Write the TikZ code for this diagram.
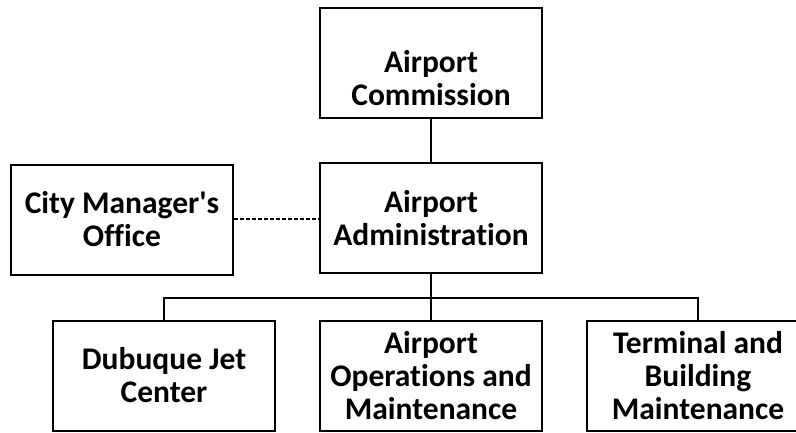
\documentclass[tikz,border=0pt]{standalone}
\usepackage{fontspec}
\setmainfont[Ligatures={TeXOff,NoCommon}]{Carlito}
\begin{document}
\begin{tikzpicture}[x=1pt,y=-1pt,
  orgbox/.style={draw=black, line width=2pt, fill=white, minimum width=222pt, minimum height=110pt,
    inner sep=0pt, align=center, font=\fontsize{31.5}{33}\selectfont\bfseries},
  conn/.style={draw=black, line width=1.5pt},
  dconn/.style={draw=black, line width=1.5pt, dash pattern=on 4pt off 2pt}]
\useasboundingbox (0,0) rectangle (796,432);
\fill[white] (0,0) rectangle (796,432);
\node[orgbox] (comm) at (431,62.5) {\raisebox{-26pt}[0pt][0pt]{\begin{tabular}{@{}c@{}}Airport\\Commission\end{tabular}}};
\node[orgbox] (admin) at (431,218) {Airport\\Administration};
\node[orgbox] (city) at (122,219.5) {City Manager's\\Office};
\node[orgbox] (jet) at (164,375.5) {Dubuque Jet\\Center};
\node[orgbox] (ops) at (431,375.5) {Airport\\Operations and\\Maintenance};
\node[orgbox] (term) at (698,375.5) {Terminal and\\Building\\Maintenance};
\coordinate (bus) at (431,298);
\draw[conn] (comm.south) -- (admin.north);
\draw[conn] (admin.south) -- (ops.north);
\draw[conn] (jet.north) -- (jet.north |- bus) -- (term.north |- bus) -- (term.north);
\draw[dconn] (city.east |- 0,219) -- (admin.west |- 0,219);
\end{tikzpicture}
\end{document}
